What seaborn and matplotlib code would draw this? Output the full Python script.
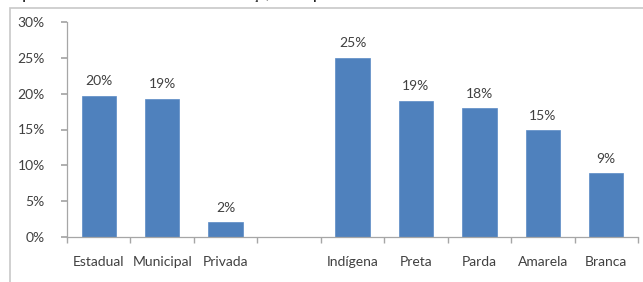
import matplotlib
matplotlib.use("Agg")
import matplotlib.pyplot as plt
import seaborn as sns
import pandas as pd
import numpy as np
from matplotlib.patches import Rectangle
from matplotlib.ticker import FixedLocator

categories = ["Estadual", "Municipal", "Privada", "Indígena", "Preta", "Parda", "Amarela", "Branca"]
values = [19.7, 19.3, 2.05, 25.0, 19.0, 17.95, 14.9, 8.9]
order = ["Estadual", "Municipal", "Privada", " ", "Indígena", "Preta", "Parda", "Amarela", "Branca"]
yticks = [0, 5, 10, 15, 20, 25, 30]
title = "dependência administrativa da escola e raça/cor do pais"

sns.set_theme(style="white")
plt.rcParams['font.family'] = ['Lato', 'DejaVu Sans']

df = pd.DataFrame({"cat": categories, "val": values})

fig = plt.figure(figsize=(6.43, 2.82), dpi=100)
ax = fig.add_axes([67/643, 1-237/282, (638-67)/643, (237-22)/282])

sns.barplot(data=df, x="cat", y="val", order=order, color="#4f81bd",
            saturation=1, width=0.54, ax=ax, edgecolor="#5a8ac6", linewidth=0.5)

ax.set_ylim(0, 30)
ax.set_xlim(-0.5, len(order) - 0.5)
ax.set_yticks(yticks)
ax.set_yticklabels([f"{t}%" for t in yticks])
ax.set_xlabel("")
ax.set_ylabel("")

text_color = "#404040"
axis_color = "#a6a6a6"
fs = 10
for c in ax.containers:
    labels = [f"{v:.0f}%" if not np.isnan(v) else "" for v in c.datavalues]
    ax.bar_label(c, labels=labels, padding=6, fontsize=fs, color=text_color)

for s in ["top", "right"]:
    ax.spines[s].set_visible(False)
for s in ["left", "bottom"]:
    ax.spines[s].set_color(axis_color)
    ax.spines[s].set_linewidth(0.9)

ax.tick_params(axis="y", which="major", length=4, color=axis_color, labelsize=fs,
               labelcolor=text_color, pad=12, left=True)
ax.tick_params(axis="x", which="major", length=0, labelsize=fs, labelcolor=text_color, pad=14)
ax.xaxis.set_minor_locator(FixedLocator(np.arange(-0.5, len(order), 1.0)))
ax.tick_params(axis="x", which="minor", length=4, color=axis_color, bottom=True)

# chart frame
fig.patches.append(Rectangle((10/643, -0.2), 1.2, 1.2 - 7.5/282,
                             transform=fig.transFigure, fill=False,
                             edgecolor="#c8c8c8", linewidth=1.2, clip_on=False))
fig.text(8/643, 1.0 + 3.5/282, title, fontsize=9.5, fontweight="bold", color="#222222",
         ha="left", va="center")

fig.savefig("out.png", dpi=100)
